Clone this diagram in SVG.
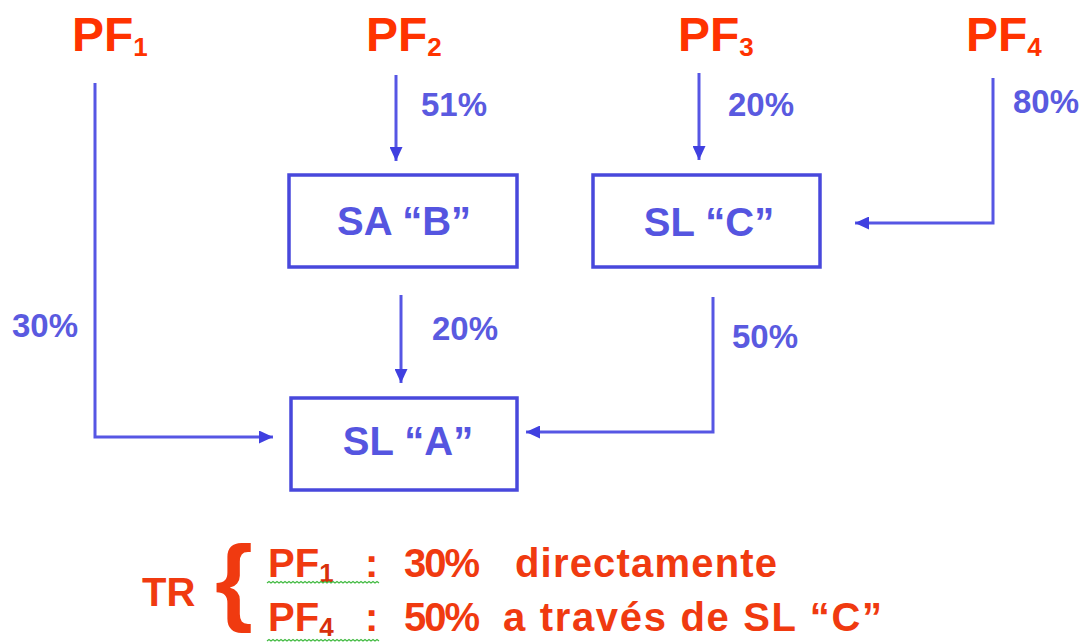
<svg xmlns="http://www.w3.org/2000/svg" width="1088" height="644" viewBox="0 0 1088 644">
<defs>
<style>
text{font-family:"Liberation Sans",Arial,sans-serif;font-weight:bold}
.pf{font-size:48px;fill:#ff3300}
.sub{font-size:26px}
.pct{font-size:33px;fill:#5a5ae0}
.lbl{font-size:40px;fill:#5555e0;text-anchor:middle}
.box{fill:#ffffff;stroke:#4848dc;stroke-width:3.5}
.con{fill:none;stroke:#5656e4;stroke-width:3;marker-end:url(#ah)}
.tr{font-size:40px;fill:#f03a10}
.wavy{fill:none;stroke:#44bb44;stroke-width:1.2}
</style>
<marker id="ah" markerUnits="userSpaceOnUse" markerWidth="15" markerHeight="13" refX="14" refY="6.5" orient="auto">
<path d="M0,0 L14,6.5 L0,13 z" fill="#4040e0"/>
</marker>
</defs>
<rect width="1088" height="644" fill="#ffffff"/>

<g id="pf1"><text class="pf" x="72" y="51">PF<tspan class="sub" dy="5">1</tspan></text></g>
<g id="pf2"><text class="pf" x="366" y="51">PF<tspan class="sub" dy="5">2</tspan></text></g>
<g id="pf3"><text class="pf" x="678" y="51">PF<tspan class="sub" dy="5">3</tspan></text></g>
<g id="pf4"><text class="pf" x="966" y="51">PF<tspan class="sub" dy="5">4</tspan></text></g>

<g id="sab"><rect class="box" x="289" y="175" width="228" height="92"/><text class="lbl" x="404" y="235">SA “B”</text></g>
<g id="slc"><rect class="box" x="593" y="175" width="227" height="92"/><text class="lbl" x="709" y="236">SL “C”</text></g>
<g id="sla"><rect class="box" x="291" y="398" width="226" height="92"/><text class="lbl" x="408" y="455">SL “A”</text></g>

<g id="connectors">
<polyline class="con" points="95,83 95,437 273,437"/>
<line class="con" x1="396" y1="75" x2="396" y2="161"/>
<line class="con" x1="699" y1="73" x2="699" y2="160"/>
<polyline class="con" points="993,78 993,223 855,223"/>
<line class="con" x1="401" y1="295" x2="401" y2="383"/>
<polyline class="con" points="713,297 713,432 526,432"/>
<text class="pct" x="421" y="116">51%</text>
<text class="pct" x="728" y="116">20%</text>
<text class="pct" x="1013" y="113">80%</text>
<text class="pct" x="12" y="337">30%</text>
<text class="pct" x="432" y="340">20%</text>
<text class="pct" x="732" y="348">50%</text>
</g>

<g id="tr">
<text class="tr" x="142" y="606">TR</text>
<text class="tr" x="215" y="613" style="font-size:97px">{</text>
<text class="tr" x="268" y="577">PF<tspan class="sub" dy="5" fill="#d8300c">1</tspan></text>
<text class="tr" x="365" y="577">:</text>
<text class="tr" x="404" y="577" textLength="76" lengthAdjust="spacing">30%</text>
<text class="tr" x="515" y="577" textLength="262" lengthAdjust="spacing">directamente</text>
<text class="tr" x="268" y="631">PF<tspan class="sub" dy="5" fill="#d8300c">4</tspan></text>
<text class="tr" x="365" y="631">:</text>
<text class="tr" x="404" y="631" textLength="76" lengthAdjust="spacing">50%</text>
<text class="tr" x="503" y="631" textLength="379" lengthAdjust="spacing">a través de SL “C”</text>
<path class="wavy" d="M267,583 l2,-1.5 l2,1.5 l2,-1.5 l2,1.5 l2,-1.5 l2,1.5 l2,-1.5 l2,1.5 l2,-1.5 l2,1.5 l2,-1.5 l2,1.5 l2,-1.5 l2,1.5 l2,-1.5 l2,1.5 l2,-1.5 l2,1.5 l2,-1.5 l2,1.5 l2,-1.5 l2,1.5 l2,-1.5 l2,1.5 l2,-1.5 l2,1.5 l2,-1.5 l2,1.5 l2,-1.5 l2,1.5 l2,-1.5 l2,1.5 l2,-1.5 l2,1.5 l2,-1.5 l2,1.5 l2,-1.5 l2,1.5 l2,-1.5 l2,1.5 l2,-1.5 l2,1.5 l2,-1.5 l2,1.5 l2,-1.5 l2,1.5 l2,-1.5 l2,1.5 l2,-1.5 l2,1.5 l2,-1.5 l2,1.5 l2,-1.5 l2,1.5 l2,-1.5 l2,1.5"/>
<path class="wavy" d="M267,641 l2,-1.5 l2,1.5 l2,-1.5 l2,1.5 l2,-1.5 l2,1.5 l2,-1.5 l2,1.5 l2,-1.5 l2,1.5 l2,-1.5 l2,1.5 l2,-1.5 l2,1.5 l2,-1.5 l2,1.5 l2,-1.5 l2,1.5 l2,-1.5 l2,1.5 l2,-1.5 l2,1.5 l2,-1.5 l2,1.5 l2,-1.5 l2,1.5 l2,-1.5 l2,1.5 l2,-1.5 l2,1.5 l2,-1.5 l2,1.5 l2,-1.5 l2,1.5 l2,-1.5 l2,1.5 l2,-1.5 l2,1.5 l2,-1.5 l2,1.5 l2,-1.5 l2,1.5 l2,-1.5 l2,1.5 l2,-1.5 l2,1.5 l2,-1.5 l2,1.5 l2,-1.5 l2,1.5 l2,-1.5 l2,1.5 l2,-1.5 l2,1.5 l2,-1.5 l2,1.5"/>
</g>
</svg>
